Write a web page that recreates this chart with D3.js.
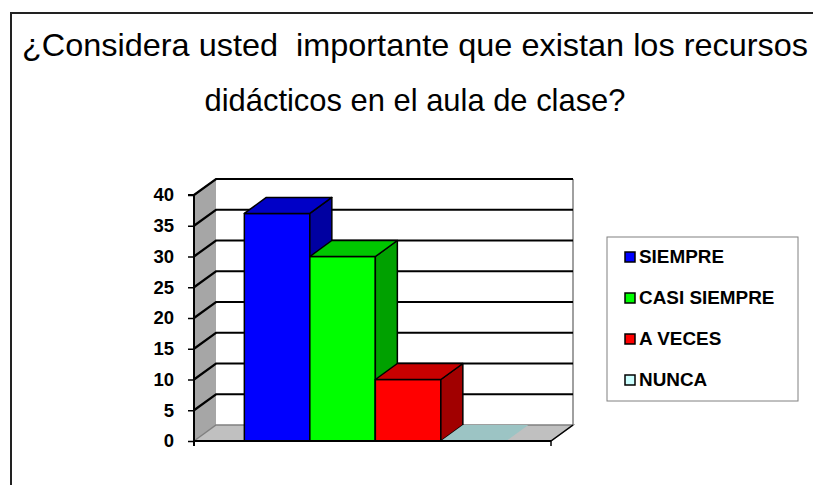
<!DOCTYPE html>
<html>
<head>
<meta charset="utf-8">
<script src="https://cdn.jsdelivr.net/npm/d3@7/dist/d3.min.js"></script>
<style>
  body { margin: 0; background: #fff; }
  svg { display: block; font-family: "Liberation Sans", Arial, sans-serif; }
</style>
</head>
<body>
<div id="chart"></div>
<script>
const titleLines = ["¿Considera usted  importante que existan los recursos", "didácticos en el aula de clase?"];
const categories = ["SIEMPRE", "CASI SIEMPRE", "A VECES", "NUNCA"];
const values = [37, 30, 10, 0];
const colors = ["#0000ff", "#00ff00", "#ff0000", "#ccffff"];
const yTicks = [0, 5, 10, 15, 20, 25, 30, 35, 40];

const width = 813, height = 485;
const svg = d3.select("#chart").append("svg")
  .attr("width", width)
  .attr("height", height)
  .attr("viewBox", [0, 0, width, height]);

// outer frame (only left and top show)
svg.append("path")
  .attr("d", "M11,485 V13 H813")
  .attr("fill", "none")
  .attr("stroke", "#222")
  .attr("stroke-width", 2);

// title, squeezed a bit like the original
const titleWidths = [786, 421];
svg.selectAll("text.title")
  .data(titleLines)
  .enter().append("text")
  .attr("class", "title")
  .attr("x", 415)
  .attr("y", (d, i) => 56 + i * 55)
  .attr("text-anchor", "middle")
  .style("white-space", "pre")
  .attr("font-size", 32)
  .attr("fill", "#000")
  .attr("textLength", (d, i) => titleWidths[i])
  .attr("lengthAdjust", "spacingAndGlyphs")
  .text(d => d);

// 3d depth
const dx = 22, dy = -16;

const y = d3.scaleLinear().domain([0, 40]).range([441, 195]);
const x = d3.scaleBand().domain(categories).range([194, 551])
  .paddingInner(0).paddingOuter(0.725).align(0.53);

const y0 = y(0), yTop = y(40);
const xL = x.range()[0], xR = x.range()[1];

function shade(c, k) {
  const r = d3.rgb(c);
  return d3.rgb(r.r * k, r.g * k, r.b * k).formatHex();
}

// side wall
svg.append("polygon")
  .attr("points", [[xL, y0], [xL, yTop], [xL + dx, yTop + dy], [xL + dx, y0 + dy]].join(" "))
  .attr("fill", "#a6a6a6");

// floor
svg.append("polygon")
  .attr("points", [[xL, y0], [xR, y0], [xR + dx, y0 + dy], [xL + dx, y0 + dy]].join(" "))
  .attr("fill", "#c0c0c0");

// back wall
svg.append("rect")
  .attr("x", xL + dx)
  .attr("y", yTop + dy)
  .attr("width", xR - xL)
  .attr("height", y0 - yTop)
  .attr("fill", "#fff");

// back wall right edge
svg.append("line")
  .attr("x1", xR + dx).attr("x2", xR + dx)
  .attr("y1", yTop + dy).attr("y2", y0 + dy)
  .attr("stroke", "#a0a0a0").attr("stroke-width", 2);

// floor/wall joins
svg.append("polyline")
  .attr("points", [[xL, y0], [xL + dx, y0 + dy], [xR + dx, y0 + dy], [xR, y0]].join(" "))
  .attr("fill", "none")
  .attr("stroke", "#808080").attr("stroke-width", 1.5);

// side wall top edge
svg.append("line")
  .attr("x1", xL).attr("y1", yTop)
  .attr("x2", xL + dx).attr("y2", yTop + dy)
  .attr("stroke", "#909090").attr("stroke-width", 1.5);

// gridlines
const grid = svg.append("g");
yTicks.filter(t => t > 0).forEach(t => {
  grid.append("polyline")
    .attr("points", [[xL, y(t)], [xL + dx, y(t) + dy], [xR + dx, y(t) + dy]].join(" "))
    .attr("fill", "none")
    .attr("stroke", "#000")
    .attr("stroke-width", 2.2);
});

// bars
const bars = svg.append("g");
categories.forEach((c, i) => {
  const v = values[i];
  const bx = x(c), bw = x.bandwidth(), by = y(v);
  const g = bars.append("g")
    .attr("stroke", "#000")
    .attr("stroke-width", 1.5)
    .attr("stroke-linejoin", "round");
  if (v > 0) {
    g.append("rect")
      .attr("x", bx).attr("y", by)
      .attr("width", bw).attr("height", y0 - by)
      .attr("fill", colors[i]);
    g.append("polygon")
      .attr("points", [[bx + bw, by], [bx + bw + dx, by + dy], [bx + bw + dx, y0 + dy], [bx + bw, y0]].join(" "))
      .attr("fill", shade(colors[i], 0.63));
    g.append("polygon")
      .attr("points", [[bx, by], [bx + dx, by + dy], [bx + bw + dx, by + dy], [bx + bw, by]].join(" "))
      .attr("fill", shade(colors[i], 0.78));
  } else {
    g.attr("stroke", "none");
    g.append("polygon")
      .attr("points", [[bx, by], [bx + dx, by + dy], [bx + bw + dx, by + dy], [bx + bw, by]].join(" "))
      .attr("fill", "#9cc4c4");
  }
});

// axis
svg.append("line")
  .attr("x1", xL).attr("x2", xR)
  .attr("y1", y0).attr("y2", y0)
  .attr("stroke", "#000").attr("stroke-width", 2);
svg.append("line")
  .attr("x1", xR).attr("y1", y0)
  .attr("x2", xR + dx).attr("y2", y0 + dy)
  .attr("stroke", "#000").attr("stroke-width", 1.5);
svg.append("line")
  .attr("x1", xR).attr("x2", xR)
  .attr("y1", y0).attr("y2", y0 + 5)
  .attr("stroke", "#000").attr("stroke-width", 1.5);

const yAxis = d3.axisLeft(y).tickValues(yTicks).tickSize(6).tickPadding(14);
const ax = svg.append("g")
  .attr("transform", `translate(${xL},0)`)
  .call(yAxis);
ax.select(".domain")
  .attr("d", `M-6,${yTop}H0V${y0 + 5}`)
  .attr("stroke", "#000").attr("stroke-width", 2);
ax.selectAll(".tick line").attr("stroke", "#000").attr("stroke-width", 1.5);
ax.selectAll(".tick text")
  .attr("font-family", "Liberation Sans, Arial, sans-serif")
  .attr("font-size", 18.5)
  .attr("font-weight", "bold")
  .attr("fill", "#000");

// legend
const legend = svg.append("g");
legend.append("rect")
  .attr("x", 607).attr("y", 237)
  .attr("width", 191).attr("height", 164)
  .attr("fill", "#fff")
  .attr("stroke", "#808080").attr("stroke-width", 1);

const items = legend.selectAll("g.item")
  .data(categories)
  .enter().append("g")
  .attr("class", "item")
  .attr("transform", (d, i) => `translate(625,${257 + i * 41})`);

items.append("rect")
  .attr("x", 0).attr("y", -5)
  .attr("width", 10).attr("height", 10)
  .attr("fill", (d, i) => colors[i])
  .attr("stroke", "#000").attr("stroke-width", 1.5);

items.append("text")
  .attr("x", 14)
  .attr("dy", "0.36em")
  .attr("font-size", 17.5)
  .attr("font-weight", "bold")
  .attr("fill", "#000")
  .text(d => d)
  .each(function () {
    // original legend lettering is a little wider than plain Arial
    const len = this.getComputedTextLength();
    d3.select(this).attr("textLength", len * 1.08).attr("lengthAdjust", "spacingAndGlyphs");
  });
</script>
</body>
</html>
